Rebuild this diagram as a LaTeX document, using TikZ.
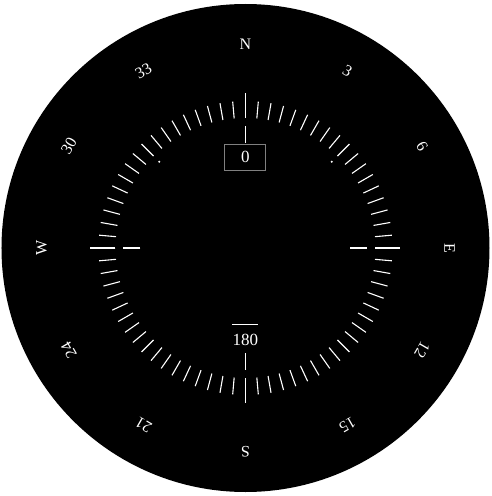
\documentclass[tikz,border=0pt]{standalone}
\usepackage{fontspec}
\setmainfont{Liberation Serif}
\begin{document}
\begin{tikzpicture}[x=1pt,y=1pt,
  tickline/.style={white, line width=1.1pt},
  lbl/.style={text=white, font=\fontsize{16}{16}\selectfont, inner sep=0pt},
  readout/.style={text=white, font=\fontsize{17}{17}\selectfont, inner sep=0pt}]
\useasboundingbox (-245.5,-248) rectangle (245.5,248);
\fill[white] (-245.5,-248) rectangle (245.5,248);
\fill[black] (0,0) circle (244);
% regular ticks every 5 degrees
\foreach \a in {0,5,...,355} {
  \draw[tickline] (90-\a:130) -- (90-\a:147);
}
% cardinal ticks
\foreach \a in {0,90,180,270} {
  \draw[tickline] (90-\a:130) -- (90-\a:155);
}
\foreach \a in {0,90,180,270} {
  \draw[tickline] (90-\a:105) -- (90-\a:122);
}
% intercardinal dots
\fill[white] (45:122) circle (1.2);
\fill[white] (135:122) circle (1.2);
% labels
\foreach \h/\t in {0/N,30/3,60/6,90/E,120/12,150/15,180/S,210/21,240/24,270/W,300/30,330/33} {
  \node[lbl, rotate=-\h] (lab\h) at (90-\h:204) {\t};
}
% heading readout
\node[draw=gray, line width=1pt, minimum width=41, minimum height=26, readout] (hdg) at (0,91) {0};
\node[readout] (recip) at (0,-92) {180};
\draw[white, line width=1pt] (-13,-76) -- (13,-76);
\end{tikzpicture}
\end{document}
